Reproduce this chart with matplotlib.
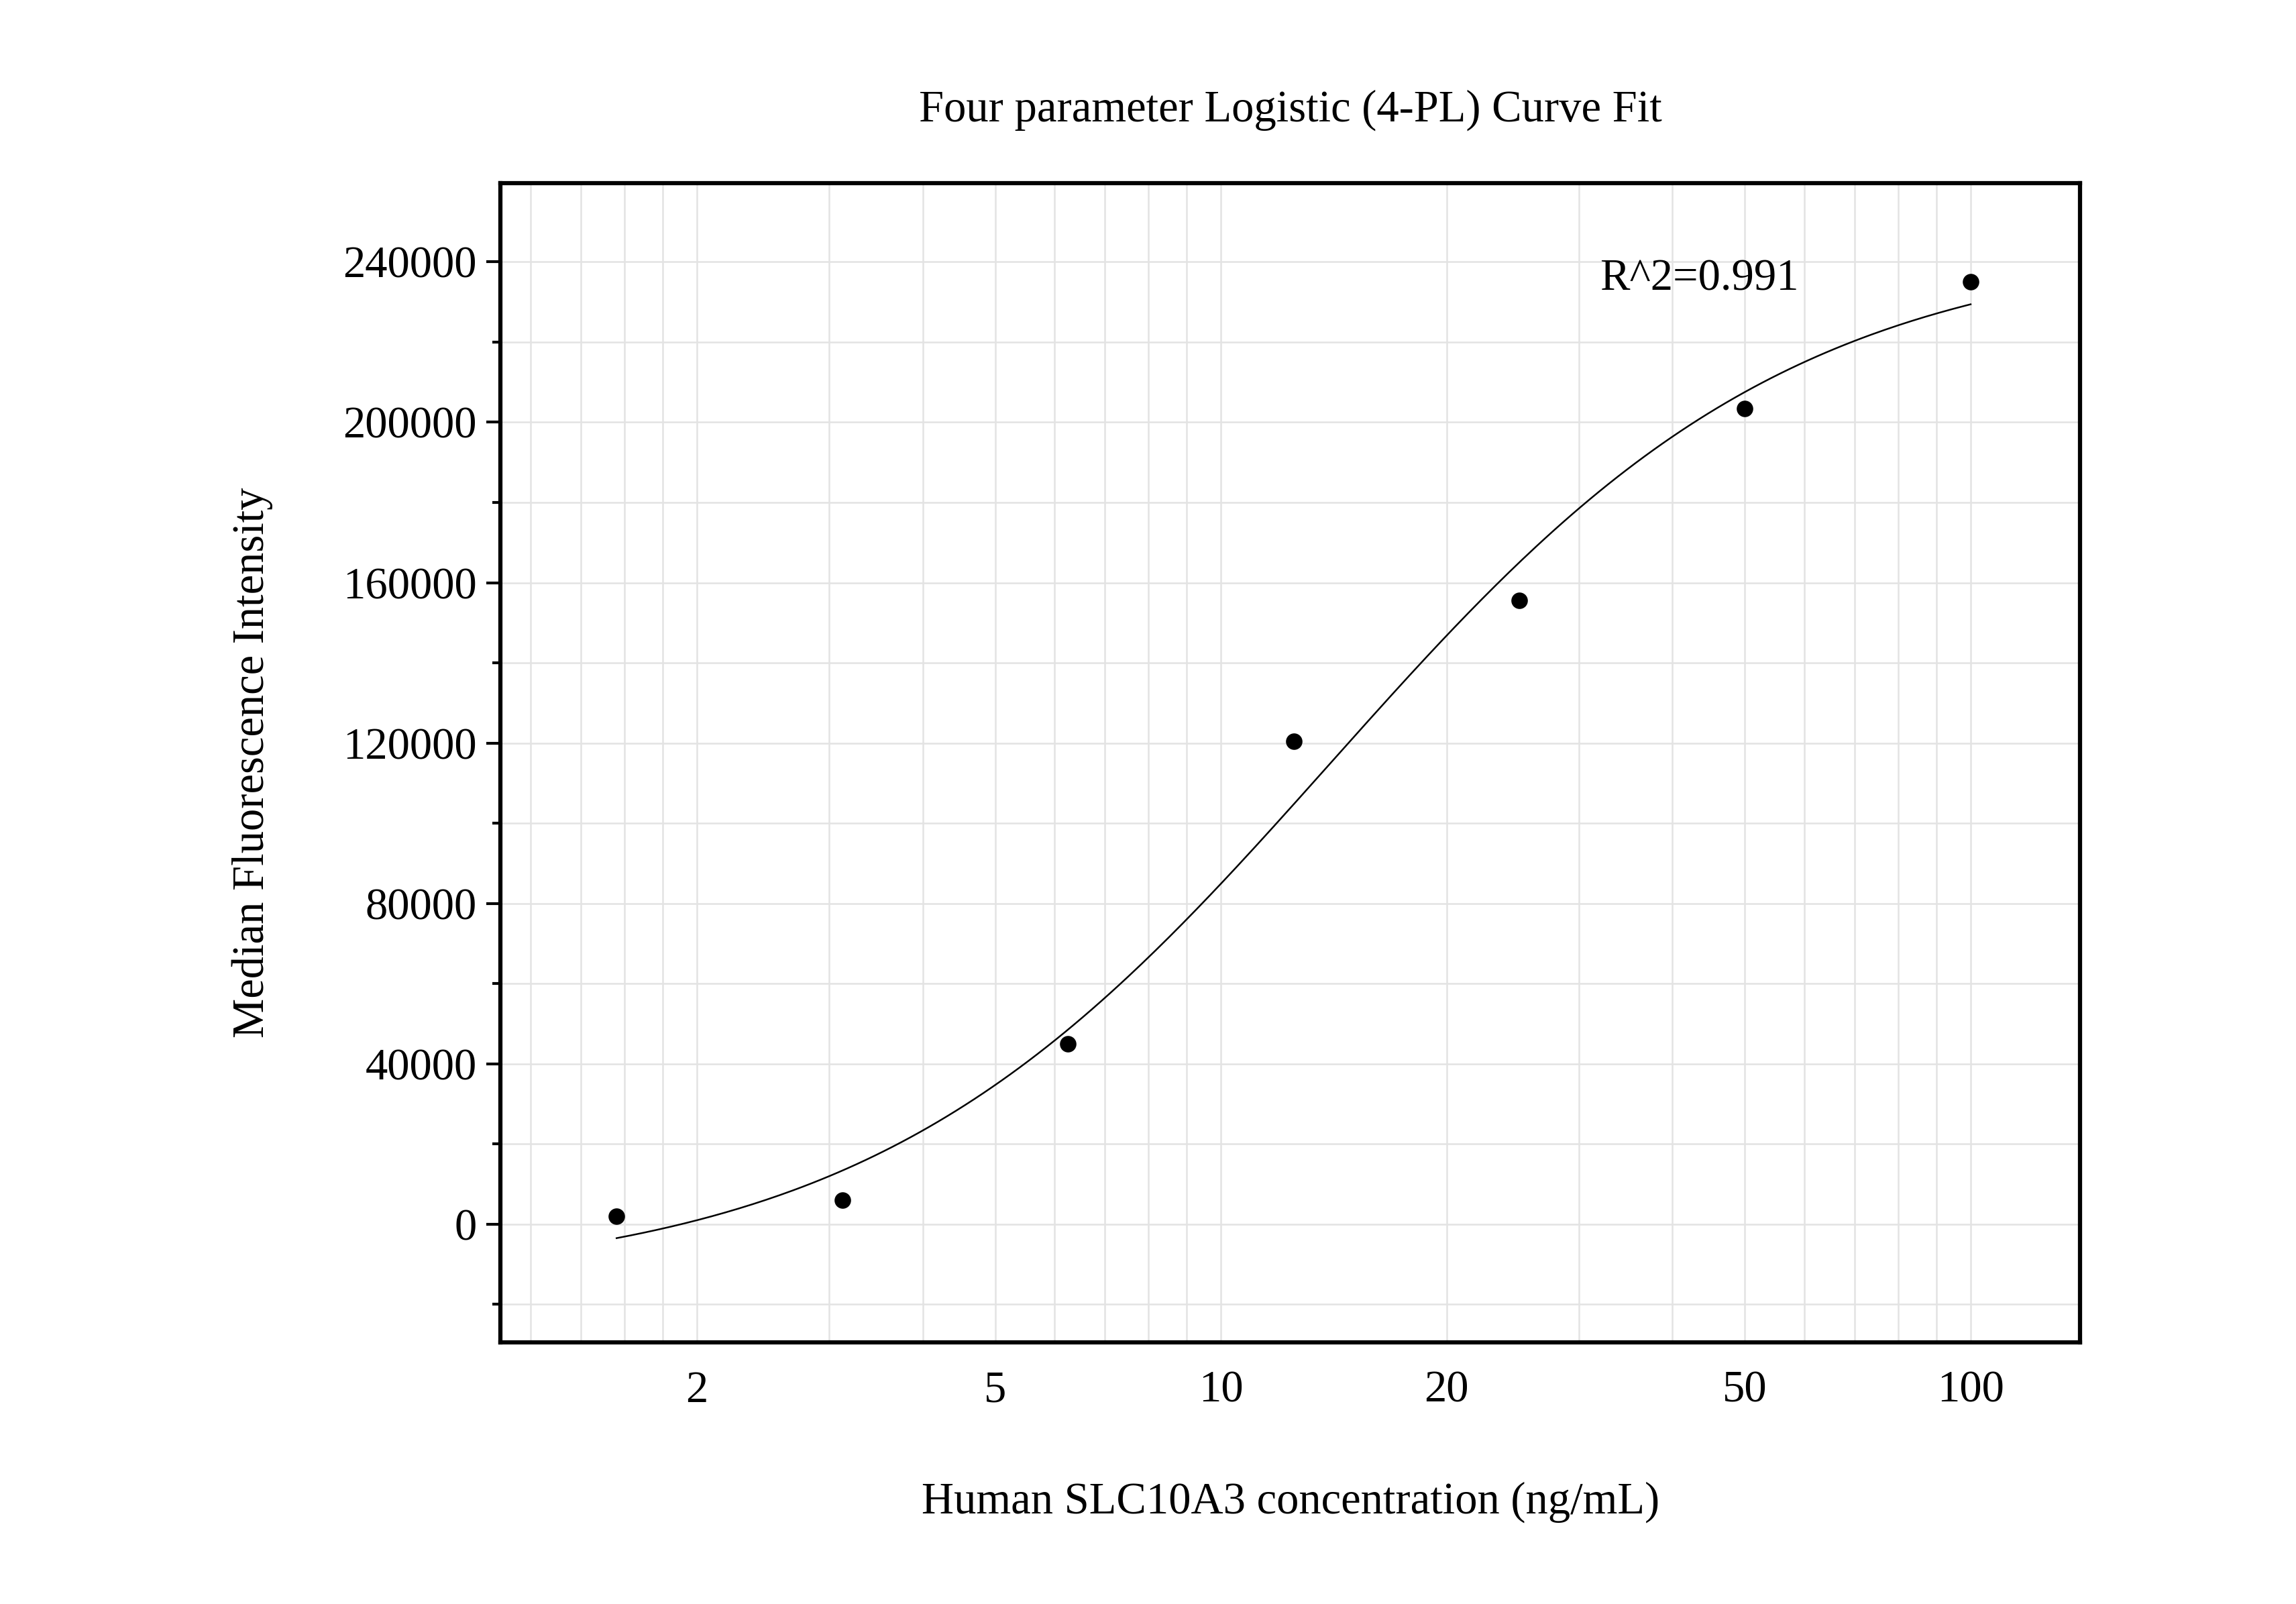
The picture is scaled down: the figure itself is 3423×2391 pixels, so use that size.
import numpy as np
import matplotlib
matplotlib.use("Agg")
import matplotlib.pyplot as plt
from matplotlib.ticker import FixedLocator, NullFormatter, MultipleLocator

conc = [1.5625, 3.125, 6.25, 12.5, 25, 50, 100]
mfi = [2000, 6000, 45000, 120500, 155500, 203500, 235000]
# 4PL parameters (estimated)
A_bot, D_top, C_mid, B_slope = -15000, 245000, 14.0, 1.4
r2_text = "R^2=0.991"
xticks = [2, 5, 10, 20, 50, 100]
yticks = [0, 40000, 80000, 120000, 160000, 200000, 240000]

plt.rcParams["font.family"] = "Liberation Serif"
fig = plt.figure(figsize=(3423/300, 2391/300), dpi=300)
ax = fig.add_axes([0.218, 0.163, 0.688, 0.723])
xs = np.logspace(np.log10(conc[0]), np.log10(conc[-1]), 300)
ys = A_bot + (D_top - A_bot) / (1 + (C_mid / xs) ** B_slope)
ax.plot(xs, ys, color="black", lw=0.6)
ax.scatter(conc, mfi, s=24, color="black", zorder=3)
ax.set_xscale("log")
ax.set_xlim(1.094, 140)
ax.set_ylim(-29500, 259700)
ax.xaxis.set_major_locator(FixedLocator(xticks))
ax.set_xticklabels([str(t) for t in xticks])
ax.xaxis.set_minor_locator(FixedLocator([1.2,1.4,1.6,1.8,3,4,6,7,8,9,30,40,60,70,80,90]))
ax.xaxis.set_minor_formatter(NullFormatter())
ax.set_yticks(yticks)
ax.yaxis.set_minor_locator(MultipleLocator(20000))
ax.grid(True, which="both", color="#e3e3e3", lw=0.6)
ax.set_axisbelow(True)
ax.tick_params(axis="x", which="both", length=0, labelsize=16, pad=10)
ax.tick_params(axis="y", which="major", length=5, width=1, labelsize=16)
ax.tick_params(axis="y", which="minor", length=3, width=1)
for s in ax.spines.values():
    s.set_linewidth(1.5)
ax.text(32, 233000, r2_text, fontsize=16)
ax.set_title("Four parameter Logistic (4-PL) Curve Fit", fontsize=16, pad=22)
ax.set_xlabel("Human SLC10A3 concentration (ng/mL)", fontsize=16, labelpad=25)
ax.set_ylabel("Median Fluorescence Intensity", fontsize=16, labelpad=25)
fig.savefig("out.png", dpi=300)
